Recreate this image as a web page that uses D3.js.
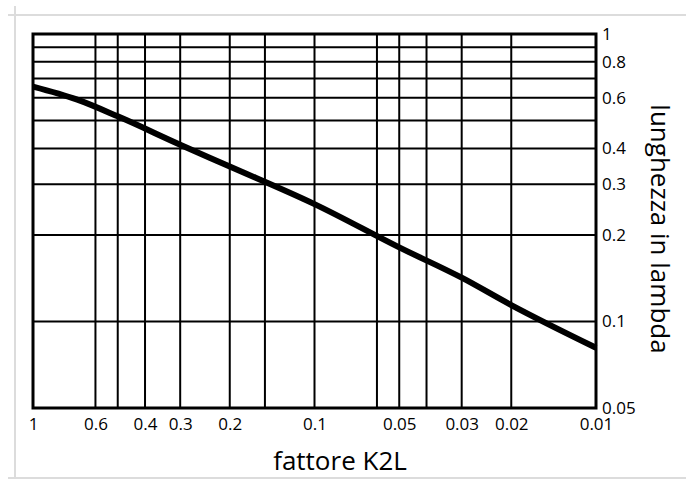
<!DOCTYPE html>
<html>
<head>
<meta charset="utf-8">
<script src="https://cdn.jsdelivr.net/npm/d3@7"></script>
<style>
  body { margin: 0; background: #fff; }
  text { font-family: "Open Sans", sans-serif; fill: #000; }
</style>
</head>
<body>
<svg id="chart" width="686" height="479"></svg>
<script>
// curve
const k2l = [1, 0.7, 0.5, 0.3, 0.2, 0.1, 0.05, 0.03, 0.02, 0.01];
const lambda = [0.656, 0.592, 0.517, 0.412, 0.346, 0.256, 0.181, 0.142, 0.114, 0.081];

const xGrid = [0.6, 0.5, 0.4, 0.3, 0.2, 0.15, 0.1, 0.06, 0.05, 0.04, 0.03, 0.02];
const yGrid = [0.9, 0.8, 0.7, 0.6, 0.5, 0.4, 0.3, 0.2, 0.1];
const xTicks = [1, 0.6, 0.4, 0.3, 0.2, 0.1, 0.05, 0.03, 0.02, 0.01];
const yTicks = [1, 0.8, 0.6, 0.4, 0.3, 0.2, 0.1, 0.05];

const plotLeft = 33, plotRight = 596, plotTop = 34, plotBottom = 408;

const svg = d3.select("#chart");

// light frame of the page
const frame = svg.append("g").attr("stroke", "#dcdcdc").attr("stroke-width", 2);
frame.append("line").attr("x1", 8).attr("x2", 686).attr("y1", 15).attr("y2", 15);
frame.append("line").attr("x1", 15).attr("x2", 15).attr("y1", 6).attr("y2", 479);
frame.append("line").attr("x1", 8).attr("x2", 686).attr("y1", 478).attr("y2", 478);

const x = d3.scaleLog().domain([1, 0.01]).range([plotLeft, plotRight]);
const y = d3.scaleLog().domain([0.05, 1]).range([plotBottom, plotTop]);

// grid
const grid = svg.append("g").attr("stroke", "#000").attr("stroke-width", 2);
grid.selectAll(".gx").data(xGrid).enter().append("line")
    .attr("x1", d => x(d)).attr("x2", d => x(d))
    .attr("y1", plotTop).attr("y2", plotBottom);
grid.selectAll(".gy").data(yGrid).enter().append("line")
    .attr("x1", plotLeft).attr("x2", plotRight)
    .attr("y1", d => y(d)).attr("y2", d => y(d));

// border
svg.append("rect")
    .attr("x", plotLeft).attr("y", plotTop)
    .attr("width", plotRight - plotLeft).attr("height", plotBottom - plotTop)
    .attr("fill", "none").attr("stroke", "#000").attr("stroke-width", 3);

// curve
const line = d3.line()
    .x((d, i) => x(k2l[i]))
    .y(d => y(d))
    .curve(d3.curveMonotoneX);

svg.append("path")
    .datum(lambda)
    .attr("fill", "none")
    .attr("stroke", "#000")
    .attr("stroke-width", 6)
    .attr("d", line);

// axes
const xAxis = svg.append("g")
    .attr("transform", "translate(0," + plotBottom + ")")
    .call(d3.axisBottom(x).tickValues(xTicks).tickSize(0).tickPadding(10).tickFormat(d3.format("")));
xAxis.select(".domain").remove();
xAxis.selectAll("text").attr("font-size", 17).attr("font-family", "Open Sans");

const yAxis = svg.append("g")
    .attr("transform", "translate(" + plotRight + ",0)")
    .call(d3.axisRight(y).tickValues(yTicks).tickSize(0).tickPadding(6).tickFormat(d3.format("")));
yAxis.select(".domain").remove();
yAxis.selectAll("text").attr("font-size", 17).attr("font-family", "Open Sans");

// titles
svg.append("text")
    .attr("x", 340).attr("y", 470)
    .attr("text-anchor", "middle")
    .attr("font-size", 26)
    .text("fattore K2L");

svg.append("text")
    .attr("transform", "translate(651,229) rotate(90)")
    .attr("text-anchor", "middle")
    .attr("font-size", 26)
    .text("lunghezza in lambda");
</script>
</body>
</html>
